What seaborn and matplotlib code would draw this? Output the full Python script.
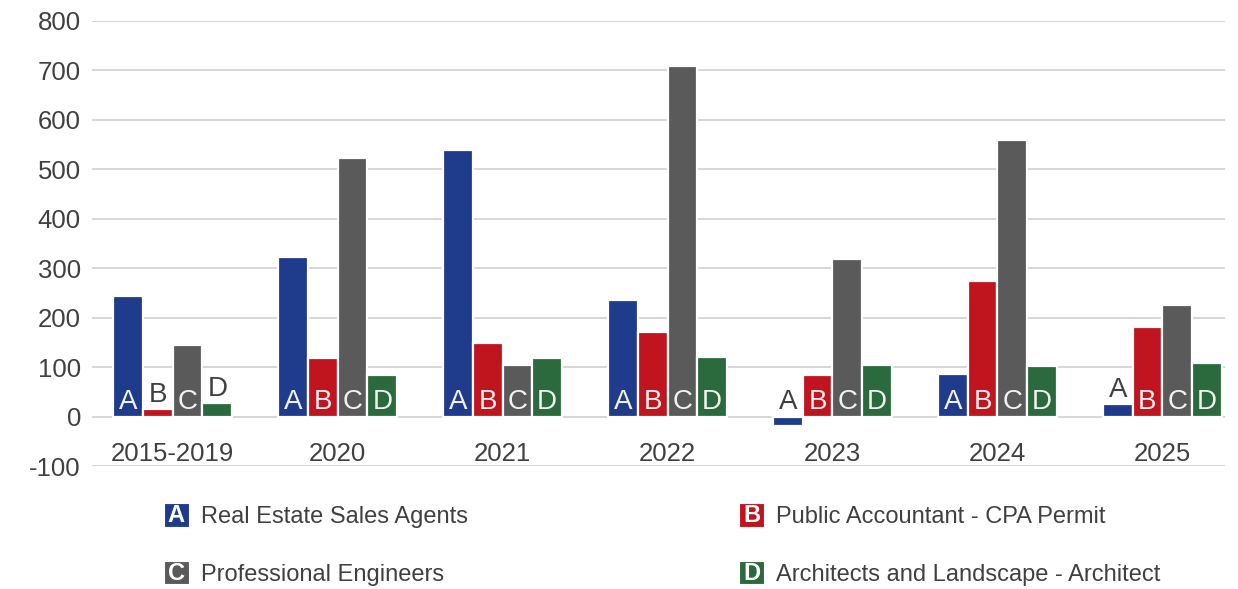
import matplotlib
matplotlib.use("Agg")
import matplotlib.pyplot as plt
import seaborn as sns
import pandas as pd
from matplotlib.legend_handler import HandlerBase
from matplotlib.patches import Rectangle, Patch
from matplotlib.text import Text

# ---- data ----
periods = ["2015-2019", "2020", "2021", "2022", "2023", "2024", "2025"]
series_names = [
    "Real Estate Sales Agents",
    "Public Accountant - CPA Permit",
    "Professional Engineers",
    "Architects and Landscape - Architect",
]
series_letters = ["A", "B", "C", "D"]
real_estate = [243, 323, 540, 236, -20, 87, 25]
cpa_permit = [15, 118, 148, 172, 85, 275, 181]
engineers = [145, 523, 105, 710, 318, 560, 225]
architects = [27, 85, 118, 120, 105, 103, 108]
y_ticks = [-100, 0, 100, 200, 300, 400, 500, 600, 700, 800]

colors = ["#1F3C8C", "#C0141E", "#5A5A5A", "#2A6A3C"]

values = [real_estate, cpa_permit, engineers, architects]
df = pd.DataFrame(
    [(p, s, v) for s, vals in zip(series_names, values) for p, v in zip(periods, vals)],
    columns=["period", "series", "value"],
)

sns.set_theme(style="white")
plt.rcParams["font.family"] = ["Liberation Sans", "DejaVu Sans"]
plt.rcParams["axes.unicode_minus"] = False
letter_font = ["Liberation Sans Narrow", "Liberation Sans", "DejaVu Sans"]
text_color = "#404040"

fig = plt.figure(figsize=(12.38, 5.89), dpi=100)
ax = fig.add_axes([92 / 1238, 1 - 466 / 589, (1225 - 92) / 1238, (466 - 21) / 589])

sns.barplot(
    data=df, x="period", y="value", hue="series", order=periods,
    hue_order=series_names, palette=colors, saturation=1, width=0.72,
    edgecolor="white", linewidth=1.6, legend=False, ax=ax, zorder=3,
)

ax.set_ylim(-100, 800)
ax.set_xlim(-0.49, 6.38)
ax.set_yticks(y_ticks)
ax.yaxis.grid(True, color="#D3D3D3", linewidth=1.3, zorder=0)
ax.set_axisbelow(True)
for sp in ax.spines.values():
    sp.set_visible(False)
ax.set_xlabel("")
ax.set_ylabel("")
ax.tick_params(axis="y", length=0, labelsize=18.5, labelcolor=text_color, pad=8)
ax.tick_params(axis="x", length=0, labelsize=18.5, labelcolor=text_color, pad=-17)
ax.set_xticks(range(len(periods)))
ax.set_xticklabels(periods)

# letter markers on each bar
for container, letter in zip(ax.containers, series_letters):
    for bar in container:
        h = bar.get_height()
        xc = bar.get_x() + bar.get_width() / 2
        if h >= 50:
            ax.text(xc, 4, letter, ha="center", va="bottom", color="#F2F2F2",
                    fontsize=20, family=letter_font, zorder=5)
        else:
            ax.text(xc, max(h, 0) + 3, letter, ha="center", va="bottom",
                    color=text_color, fontsize=20, family=letter_font, zorder=5)


class LetterBoxHandler(HandlerBase):
    def __init__(self, letter, color):
        super().__init__()
        self.letter = letter
        self.color = color

    def create_artists(self, legend, orig_handle, xdescent, ydescent,
                       width, height, fontsize, trans):
        box = Rectangle((-xdescent, -ydescent - 1), width, height + 2,
                        facecolor=self.color, edgecolor="white", linewidth=0.8,
                        transform=trans)
        txt = Text(-xdescent + width / 2, -ydescent + height / 2 - 0.5, self.letter,
                   ha="center", va="center", color="white", fontsize=fontsize * 1.0,
                   family=letter_font, fontweight="bold", transform=trans)
        return [box, txt]


handles = [Patch(color=c) for c in colors]
handler_map = {h: LetterBoxHandler(l, c) for h, l, c in zip(handles, series_letters, colors)}
order = [0, 2, 1, 3]
leg = fig.legend(
    [handles[i] for i in order], [series_names[i] for i in order],
    handler_map=handler_map, ncol=2, frameon=False,
    loc="upper left", bbox_to_anchor=(164 / 1238, 1 - 504 / 589),
    fontsize=17, handlelength=1.05, handleheight=1.0, handletextpad=0.5,
    labelspacing=1.45, columnspacing=11.5, borderpad=0, borderaxespad=0,
    labelcolor=text_color,
)

fig.savefig("out.png", dpi=100)
